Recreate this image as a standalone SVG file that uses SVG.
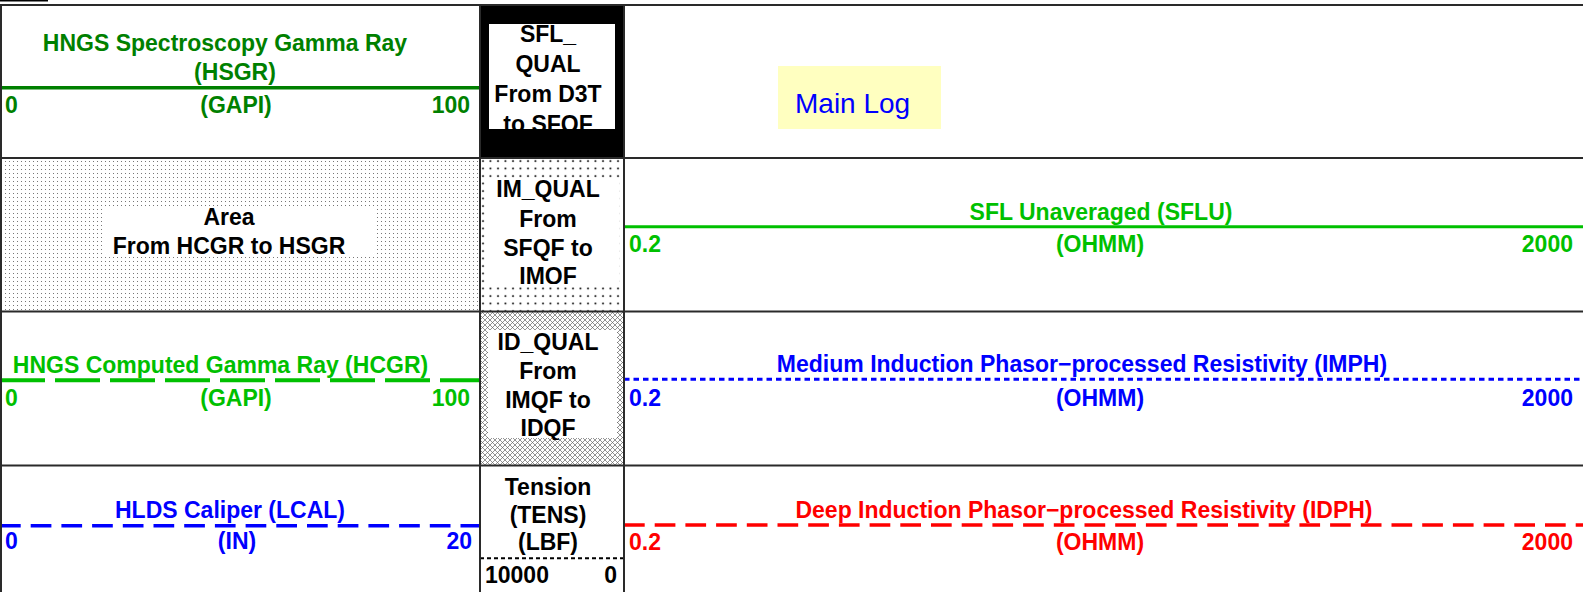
<svg xmlns="http://www.w3.org/2000/svg" width="1583" height="592" viewBox="0 0 1583 592">
<style>
.b{font-family:"Liberation Sans",Arial,sans-serif;font-weight:bold;font-size:23px}
.k{fill:#000}
.g1{fill:#008000}
.g2{fill:#00C000}
.bl{fill:#0000FF}
.rd{fill:#FF0000}
.m{text-anchor:middle}
.e{text-anchor:end}
.grid{stroke:#2a2a2a;stroke-width:2;fill:none}
</style>
<defs>
<pattern id="fineDots" patternUnits="userSpaceOnUse" width="4" height="4"><rect x="1" y="1" width="1" height="1" fill="#777"/></pattern>
<pattern id="coarseDots" patternUnits="userSpaceOnUse" x="480" y="158" width="7.5" height="7.5"><circle cx="3" cy="3" r="1" fill="#000"/></pattern>
<pattern id="hatch" patternUnits="userSpaceOnUse" width="5" height="5"><path d="M0,0L5,5M5,0L0,5" stroke="#666" stroke-width="0.7"/></pattern>
<clipPath id="c1"><rect x="489" y="24" width="126" height="105"/></clipPath>
<clipPath id="c2"><rect x="486" y="178" width="133" height="106"/></clipPath>
<clipPath id="c3"><rect x="488" y="330" width="129" height="110"/></clipPath>
</defs>
<rect width="1583" height="592" fill="#fff"/>
<rect x="0" y="0" width="48" height="1.5" fill="#000"/>

<g id="track-hsgr">
<text class="b g1 m" x="225" y="51">HNGS Spectroscopy Gamma Ray</text>
<text class="b g1 m" x="235" y="80">(HSGR)</text>
<line x1="0" y1="87.7" x2="480" y2="87.7" stroke="#008000" stroke-width="3.5"/>
<text class="b g1" x="5" y="113">0</text>
<text class="b g1 m" x="236" y="113">(GAPI)</text>
<text class="b g1 e" x="470" y="113">100</text>
</g>

<g id="area-fill">
<rect x="1" y="158" width="479" height="153" fill="url(#fineDots)"/>
<rect x="103" y="207" width="272" height="50" fill="#fff"/>
<text class="b k m" x="229" y="225">Area</text>
<text class="b k m" x="229" y="254">From HCGR to HSGR</text>
</g>

<g id="track-hcgr">
<line x1="0" y1="380.3" x2="480" y2="380.3" stroke="#00C000" stroke-width="4" stroke-dasharray="45 10"/>
<text class="b g2 m" x="220.5" y="372.7">HNGS Computed Gamma Ray (HCGR)</text>
<text class="b g2" x="5" y="406">0</text>
<text class="b g2 m" x="236" y="406">(GAPI)</text>
<text class="b g2 e" x="470" y="406">100</text>
</g>

<g id="track-lcal">
<line x1="0" y1="525.7" x2="480" y2="525.7" stroke="#0000FF" stroke-width="3.5" stroke-dasharray="20.7 10"/>
<text class="b bl m" x="230" y="518">HLDS Caliper (LCAL)</text>
<text class="b bl" x="5" y="549">0</text>
<text class="b bl m" x="237" y="549">(IN)</text>
<text class="b bl e" x="472" y="549">20</text>
</g>

<g id="sfl-qual">
<rect x="480" y="5" width="144" height="153" fill="#000"/>
<rect x="489" y="24" width="126" height="105" fill="#fff"/>
<g clip-path="url(#c1)">
<text class="b k m" x="548" y="42">SFL_</text>
<text class="b k m" x="548" y="72">QUAL</text>
<text class="b k m" x="548" y="102">From D3T</text>
<text class="b k m" x="548" y="131.5">to SFQF</text>
</g>
</g>

<g id="im-qual">
<rect x="480" y="158" width="144" height="153" fill="url(#coarseDots)"/>
<rect x="486" y="178" width="133" height="106" fill="#fff"/>
<g clip-path="url(#c2)">
<text class="b k m" x="548" y="197">IM_QUAL</text>
<text class="b k m" x="548" y="226.5">From</text>
<text class="b k m" x="548" y="255.5">SFQF to</text>
<text class="b k m" x="548" y="284">IMQF</text>
</g>
</g>

<g id="id-qual">
<rect x="480" y="311" width="144" height="154" fill="url(#hatch)"/>
<rect x="488" y="330" width="129" height="108" fill="#fff"/>
<g clip-path="url(#c3)">
<text class="b k m" x="548" y="350">ID_QUAL</text>
<text class="b k m" x="548" y="379">From</text>
<text class="b k m" x="548" y="408">IMQF to</text>
<text class="b k m" x="548" y="436">IDQF</text>
</g>
</g>

<g id="track-tens">
<text class="b k m" x="548" y="495">Tension</text>
<text class="b k m" x="548" y="523">(TENS)</text>
<text class="b k m" x="548" y="550">(LBF)</text>
<line x1="480" y1="558.3" x2="624" y2="558.3" stroke="#000" stroke-width="2" stroke-dasharray="4 3"/>
<text class="b k" x="485" y="583">10000</text>
<text class="b k e" x="617" y="583">0</text>
</g>

<g id="main-log">
<rect x="778" y="66" width="163" height="63" fill="#FFFFC0"/>
<text x="795" y="113" font-family="'Liberation Sans',Arial,sans-serif" font-size="28" fill="#0000FF">Main Log</text>
</g>

<g id="track-sflu">
<text class="b g2 m" x="1101" y="220">SFL Unaveraged (SFLU)</text>
<line x1="624" y1="226.7" x2="1583" y2="226.7" stroke="#00C000" stroke-width="3"/>
<text class="b g2" x="629" y="252">0.2</text>
<text class="b g2 m" x="1100" y="252">(OHMM)</text>
<text class="b g2 e" x="1573" y="252">2000</text>
</g>

<g id="track-imph">
<line x1="624" y1="379.3" x2="1583" y2="379.3" stroke="#0000FF" stroke-width="3" stroke-dasharray="5.5 4"/>
<text class="b bl m" x="1082" y="372">Medium Induction Phasor−processed Resistivity (IMPH)</text>
<text class="b bl" x="629" y="406">0.2</text>
<text class="b bl m" x="1100" y="406">(OHMM)</text>
<text class="b bl e" x="1573" y="406">2000</text>
</g>

<g id="track-idph">
<line x1="624" y1="525" x2="1583" y2="525" stroke="#FF0000" stroke-width="3.5" stroke-dasharray="20.7 10"/>
<text class="b rd m" x="1084" y="518">Deep Induction Phasor−processed Resistivity (IDPH)</text>
<text class="b rd" x="629" y="550">0.2</text>
<text class="b rd m" x="1100" y="550">(OHMM)</text>
<text class="b rd e" x="1573" y="550">2000</text>
</g>

<g id="connectors" class="grid">
<line x1="0" y1="5" x2="1583" y2="5"/>
<line x1="0" y1="158" x2="1583" y2="158"/>
<line x1="0" y1="311.5" x2="1583" y2="311.5"/>
<line x1="0" y1="465.5" x2="1583" y2="465.5"/>
<line x1="1" y1="5" x2="1" y2="592"/>
<line x1="480" y1="5" x2="480" y2="592"/>
<line x1="624" y1="5" x2="624" y2="592"/>
</g>
</svg>
